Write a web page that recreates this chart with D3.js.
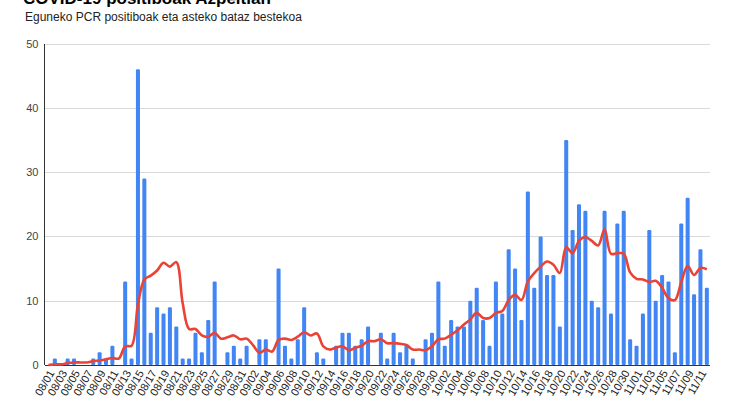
<!DOCTYPE html>
<html>
<head>
<meta charset="utf-8">
<script src="https://cdn.jsdelivr.net/npm/d3@7"></script>
<style>
  html, body { margin: 0; padding: 0; background: #fff; }
  svg { display: block; font-family: "Liberation Sans", Arial, sans-serif; }
</style>
</head>
<body>
<svg id="chart" width="735" height="413"></svg>
<script>
const title = "COVID-19 positiboak Azpeitian";
const subtitle = "Eguneko PCR positiboak eta asteko bataz bestekoa";

const categories = [
  "08/01","08/02","08/03","08/04","08/05","08/06","08/07","08/08","08/09","08/10",
  "08/11","08/12","08/13","08/14","08/15","08/16","08/17","08/18","08/19","08/20",
  "08/21","08/22","08/23","08/24","08/25","08/26","08/27","08/28","08/29","08/30",
  "08/31","09/01","09/02","09/03","09/04","09/05","09/06","09/07","09/08","09/09",
  "09/10","09/11","09/12","09/13","09/14","09/15","09/16","09/17","09/18","09/19",
  "09/20","09/21","09/22","09/23","09/24","09/25","09/26","09/27","09/28","09/29",
  "09/30","10/01","10/02","10/03","10/04","10/05","10/06","10/07","10/08","10/09",
  "10/10","10/11","10/12","10/13","10/14","10/15","10/16","10/17","10/18","10/19",
  "10/20","10/21","10/22","10/23","10/24","10/25","10/26","10/27","10/28","10/29",
  "10/30","10/31","11/01","11/02","11/03","11/04","11/05","11/06","11/07","11/08",
  "11/09","11/10","11/11","11/12"
];

const dailyPositives = [
  0,1,0,1,1,0,0,1,2,1,
  3,0,13,1,46,29,5,9,8,9,
  6,1,1,5,2,7,13,0,2,3,
  1,3,0,4,4,0,15,3,1,4,
  9,0,2,1,0,3,5,5,3,4,
  6,0,5,1,5,2,3,1,0,4,
  5,13,3,7,6,6,10,12,7,3,
  13,8,18,15,7,27,12,20,14,14,
  6,35,21,25,24,10,9,24,8,22,
  24,4,3,8,21,10,14,13,2,22,
  26,11,18,12
];

const weeklyAverage = [
  0,0.1,0.1,0.3,0.4,0.4,0.4,0.6,0.7,0.9,
  1.1,1.0,2.9,3.0,9.4,13.3,13.9,14.7,15.9,15.3,
  16.0,9.6,5.6,5.6,4.6,4.4,5.0,4.1,4.3,4.6,
  4.0,4.1,3.1,1.9,2.4,2.1,3.9,4.1,3.9,4.4,
  5.1,4.6,4.9,2.9,2.4,2.7,2.9,2.3,2.7,3.0,
  3.7,3.7,4.0,3.4,3.4,3.3,3.1,2.4,2.4,2.3,
  2.9,4.0,4.1,4.7,5.4,6.3,7.1,8.1,7.3,7.3,
  8.1,8.4,10.1,10.9,10.1,13.0,14.3,15.3,16.1,15.6,
  14.3,18.3,17.4,19.3,19.9,19.3,18.6,21.1,17.3,17.4,
  17.3,14.4,13.4,13.3,12.9,13.1,12.0,10.4,10.1,12.9,
  15.4,14.0,15.1,14.9
];

const yTicks = [0, 10, 20, 30, 40, 50];
const tickLabels = categories.filter((d, i) => i % 2 === 0);

const svg = d3.select("#chart");
const plotLeft = 44.5, plotRight = 710, plotTop = 43.5, plotBottom = 365;

const x = d3.scaleBand().domain(categories).range([plotLeft + 0.8, plotRight]).paddingInner(0.37).paddingOuter(0.18);
const y = d3.scaleLinear().domain([0, 50]).range([plotBottom, plotTop]);

// title + subtitle
svg.append("text").attr("x", 23).attr("y", 4)
  .attr("font-size", 17).attr("font-weight", "bold").attr("fill", "#000").text(title);
svg.append("text").attr("x", 25).attr("y", 21)
  .attr("font-size", 12).attr("fill", "#222").text(subtitle);

// gridlines
const yAxis = d3.axisLeft(y).tickValues(yTicks).tickSize(-(plotRight - plotLeft)).tickPadding(6);
const gy = svg.append("g").attr("transform", `translate(${plotLeft},0)`).call(yAxis);
gy.select(".domain").remove();
gy.selectAll(".tick line").attr("stroke", "#d9d9d9").attr("stroke-width", 1)
  .attr("shape-rendering", "crispEdges");
gy.selectAll(".tick text").attr("font-size", 11).attr("fill", "#444")
  .attr("font-family", "\"Liberation Sans\", Arial, sans-serif");

// bars
svg.append("g").selectAll("rect").data(dailyPositives).join("rect")
  .attr("x", (d, i) => x(categories[i]))
  .attr("width", x.bandwidth())
  .attr("y", d => y(d))
  .attr("height", d => y(0) - y(d))
  .attr("rx", 1.2)
  .attr("fill", "#4285F4");

// baseline and left axis line
svg.append("line").attr("x1", plotLeft).attr("x2", plotRight).attr("y1", y(0)).attr("y2", y(0))
  .attr("stroke", "#333").attr("stroke-width", 1).attr("shape-rendering", "crispEdges");
svg.append("line").attr("x1", plotLeft).attr("x2", plotLeft).attr("y1", y(50)).attr("y2", y(0))
  .attr("stroke", "#333").attr("stroke-width", 1).attr("shape-rendering", "crispEdges");

// average line
const line = d3.line()
  .x((d, i) => x(categories[i]) + x.bandwidth() / 2)
  .y(d => y(d))
  .curve(d3.curveCatmullRom.alpha(0.5));
svg.append("path").datum(weeklyAverage)
  .attr("d", line).attr("fill", "none")
  .attr("stroke", "#EA4335").attr("stroke-width", 2.6)
  .attr("stroke-linejoin", "round");

// x axis labels
const xAxis = d3.axisBottom(x).tickValues(tickLabels).tickSize(0).tickPadding(0);
const gx = svg.append("g").attr("transform", `translate(0,${plotBottom})`).call(xAxis);
gx.select(".domain").remove();
gx.selectAll(".tick text")
  .attr("font-size", 11).attr("fill", "#222")
  .attr("font-family", "\"Liberation Sans\", Arial, sans-serif")
  .attr("text-anchor", "end")
  .attr("dy", "0.35em")
  .attr("transform", "translate(3,6) rotate(-60)");
</script>
</body>
</html>
